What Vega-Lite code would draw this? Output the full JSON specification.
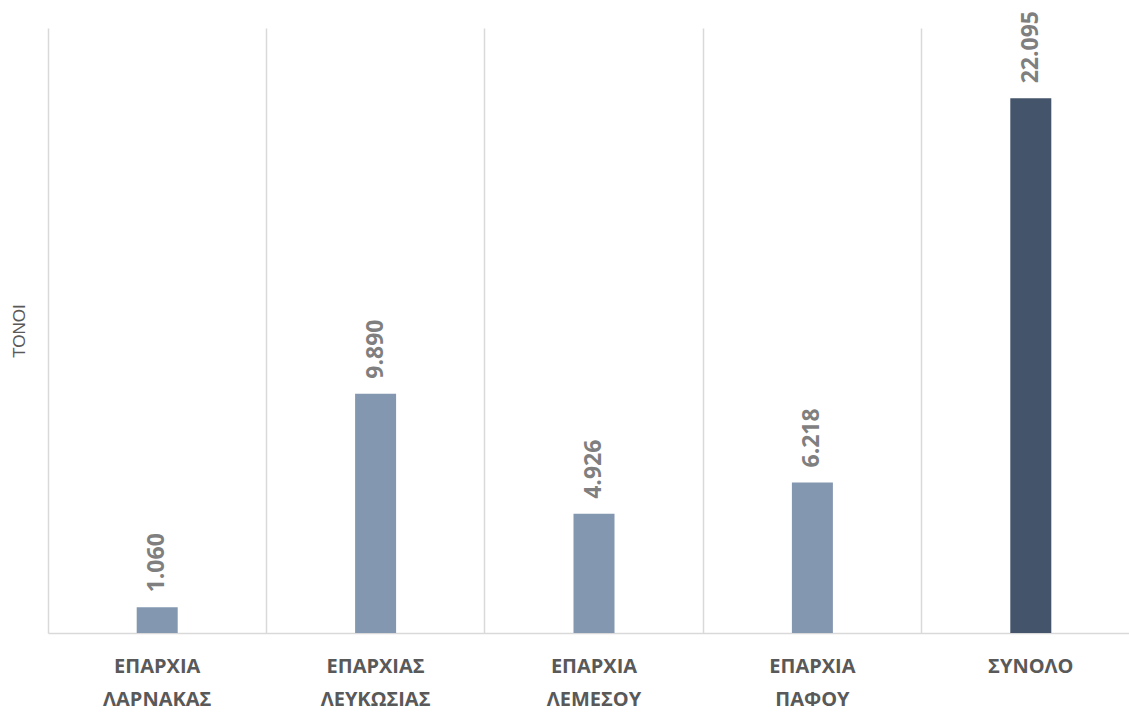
{
  "$schema": "https://vega.github.io/schema/vega-lite/v6.json",
  "width": 1092,
  "height": 605,
  "autosize": {"type": "none"},
  "padding": {"left": 48, "top": 28, "right": 0, "bottom": 81},
  "background": "white",
  "config": {
    "view": {"stroke": null},
    "font": "Open Sans",
    "locale": {"number": {"decimal": ",", "thousands": ".", "grouping": [3], "currency": ["", "€"]}}
  },
  "data": {
    "values": [
      {"region": "ΕΠΑΡΧΙΑ ΛΑΡΝΑΚΑΣ", "tons": 1060, "type": "district"},
      {"region": "ΕΠΑΡΧΙΑΣ ΛΕΥΚΩΣΙΑΣ", "tons": 9890, "type": "district"},
      {"region": "ΕΠΑΡΧΙΑ ΛΕΜΕΣΟΥ", "tons": 4926, "type": "district"},
      {"region": "ΕΠΑΡΧΙΑ ΠΑΦΟΥ", "tons": 6218, "type": "district"},
      {"region": "ΣΥΝΟΛΟ", "tons": 22095, "type": "total"}
    ]
  },
  "encoding": {
    "x": {
      "field": "region",
      "type": "nominal",
      "sort": null,
      "scale": {"paddingInner": 0, "paddingOuter": 0},
      "axis": {
        "title": null,
        "labelAngle": 0,
        "labelExpr": "split(datum.label, ' ')",
        "labelFont": "Open Sans",
        "labelFontSize": 20,
        "labelFontWeight": "bold",
        "labelColor": "#595959",
        "labelLineHeight": 33,
        "labelPadding": 33,
        "labelBaseline": "middle",
        "ticks": false,
        "domainColor": "#d9d9d9",
        "domainWidth": 1.5,
        "grid": true,
        "gridColor": "#d9d9d9",
        "gridWidth": 1.5,
        "bandPosition": 0
      }
    },
    "y": {
      "field": "tons",
      "type": "quantitative",
      "scale": {"domain": [0, 25000], "nice": false},
      "axis": {
        "title": "ΤΟΝΟΙ",
        "titleFont": "Liberation Sans",
        "titleFontSize": 17,
        "titleFontWeight": "normal",
        "titleColor": "#595959",
        "titlePadding": 20,
        "labels": false,
        "ticks": false,
        "domain": false,
        "grid": false
      }
    }
  },
  "layer": [
    {
      "mark": {"type": "bar", "size": 41},
      "encoding": {
        "color": {
          "field": "type",
          "type": "nominal",
          "scale": {"domain": ["district", "total"], "range": ["#8497b0", "#44546a"]},
          "legend": null
        }
      }
    },
    {
      "mark": {
        "type": "text",
        "angle": 270,
        "align": "left",
        "baseline": "middle",
        "dx": 15,
        "font": "Open Sans",
        "fontSize": 23,
        "fontWeight": "bold",
        "color": "#7f7f7f"
      },
      "encoding": {
        "text": {"field": "tons", "type": "quantitative", "format": ",d"}
      }
    }
  ]
}
